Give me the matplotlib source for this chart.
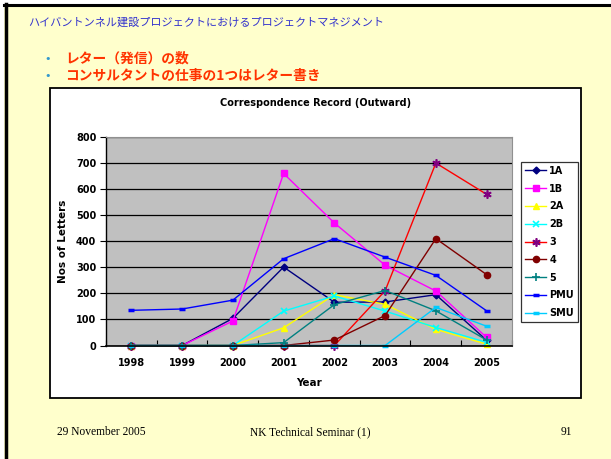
import matplotlib.pyplot as plt
from matplotlib.patches import Rectangle
from matplotlib.lines import Line2D

years = ['1998', '1999', '2000', '2001', '2002', '2003', '2004', '2005']

s_1A = [0, 0, 104, 301, 166, 167, 195, 20]
s_1B = [0, 0, 94, 660, 470, 308, 209, 31]
s_2A = [0, 0, 0, 68, 195, 158, 62, 5]
s_2B = [0, 0, 0, 132, 190, 132, 69, 12]
s_3 = [0, 0, 0, 0, 0, 210, 700, 580]
s_4 = [0, 0, 0, 0, 21, 115, 410, 272]
s_5 = [0, 0, 0, 11, 157, 211, 133, 21]
s_pmu = [135, 140, 174, 333, 410, 339, 269, 133]
s_smu = [0, 0, 0, 0, 0, 0, 146, 74]

series_names = ['1A', '1B', '2A', '2B', '3', '4', '5', 'PMU', 'SMU']
jp = ['Noto Sans CJK JP', 'DejaVu Sans']

W, H = 611, 459
fig = plt.figure(figsize=(W / 100, H / 100), dpi=100)
fig.patch.set_facecolor('white')

def fx(px):
    return px / W

def fy(py):
    return 1 - py / H

# slide background
fig.patches.append(Rectangle((fx(4), 0), 1, fy(4), transform=fig.transFigure,
                             facecolor='#FFFFCC', edgecolor='none', zorder=0))
fig.lines.append(Line2D([fx(4), 1], [fy(5), fy(5)], transform=fig.transFigure,
                        color='black', lw=2.2))
fig.lines.append(Line2D([fx(5.5), fx(5.5)], [0, fy(4)], transform=fig.transFigure,
                        color='black', lw=2.5))

fig.text(fx(28), fy(22), 'ハイバントンネル建設プロジェクトにおけるプロジェクトマネジメント',
         family=jp, fontsize=8.0, color='#3333CC', va='center')
fig.text(fx(44), fy(59), '•', fontsize=8, color='#3399CC', va='center')
fig.text(fx(44), fy(76), '•', fontsize=8, color='#3399CC', va='center')
fig.text(fx(65), fy(59), 'レター（発信）の数', family=jp, fontsize=9.9,
         weight='bold', color='#FF3300', va='center')
fig.text(fx(65), fy(76), 'コンサルタントの仕事の1つはレター書き', family=jp, fontsize=9.9,
         weight='bold', color='#FF3300', va='center')

# chart box
fig.patches.append(Rectangle((fx(50), fy(398)), fx(581 - 50), (398 - 88) / H,
                             transform=fig.transFigure, facecolor='white',
                             edgecolor='black', lw=1.3, zorder=1))
fig.text(fx(316), fy(103), 'Correspondence Record (Outward)', fontsize=7,
         weight='bold', ha='center', va='center')

ax = fig.add_axes([fx(106), fy(345.5), fx(406), (345.5 - 137) / H])
ax.set_facecolor('#C0C0C0')
ax.set_zorder(2)

x = list(range(len(years)))
styles = [
    (s_1A, '#000080', dict(marker='D', ms=3.5, mfc='#000080', mec='#000080')),
    (s_1B, '#FF00FF', dict(marker='s', ms=4.5, mfc='#FF00FF', mec='#FF00FF')),
    (s_2A, '#FFFF00', dict(marker='^', ms=5, mfc='#FFFF00', mec='#FFFF00')),
    (s_2B, '#00FFFF', dict(marker='x', ms=5, mew=1.2, mec='#00FFFF')),
    (s_3, '#FF0000', dict(marker=(6, 2, 0), ms=6, mew=1.2, mec='#800080')),
    (s_4, '#800000', dict(marker='o', ms=4.5, mfc='#800000', mec='#800000')),
    (s_5, '#008080', dict(marker='+', ms=6, mew=1.2, mec='#008080')),
    (s_pmu, '#0000FF', dict(marker='_', ms=4, mew=2.5, mec='#0000FF')),
    (s_smu, '#00CCFF', dict(marker='_', ms=5, mew=2.5, mec='#00CCFF')),
]
for (vals, col, mk), name in zip(styles, series_names):
    ax.plot(x, vals, color=col, lw=1, label=name, clip_on=False, **mk)

ax.set_xlim(-0.5, len(years) - 0.5)
ax.set_ylim(0, 800)
ax.set_yticks(range(0, 801, 100))
ax.grid(axis='y', color='black', lw=0.9)
ax.set_axisbelow(True)
ax.set_xticks([i - 0.5 for i in range(len(years) + 1)])
ax.set_xticklabels([])
ax.set_xticks(x, minor=True)
ax.set_xticklabels(years, minor=True)
ax.tick_params(axis='x', which='major', direction='in', length=4, width=0.8)
ax.tick_params(axis='x', which='minor', length=0, pad=9)
ax.tick_params(axis='y', direction='out', length=4, width=0.8, pad=3)
for lab in ax.get_xticklabels(minor=True) + ax.get_yticklabels():
    lab.set_fontsize(7)
    lab.set_fontweight('bold')
ax.spines['left'].set_color('black')
ax.spines['bottom'].set_color('black')
ax.spines['left'].set_linewidth(1)
ax.spines['bottom'].set_linewidth(1.2)
ax.spines['top'].set_color('#909090')
ax.spines['right'].set_color('#909090')
ax.set_ylabel('Nos of Letters', fontsize=7.5, weight='bold', labelpad=6)
ax.set_xlabel('Year', fontsize=7.5, weight='bold', labelpad=7)

leg = fig.legend(loc='upper left', bbox_to_anchor=(fx(521), fy(162)),
                 bbox_transform=fig.transFigure, frameon=True, fancybox=False,
                 edgecolor='black', prop={'weight': 'bold', 'size': 7},
                 handlelength=2.2, handletextpad=0.3, labelspacing=0.8,
                 borderpad=0.4, borderaxespad=0)
leg.get_frame().set_linewidth(0.9)
leg.set_zorder(3)

fig.text(fx(57), fy(432), '29 November 2005', family='Liberation Serif',
         fontsize=8.3, va='center')
fig.text(fx(310), fy(432), 'NK Technical Seminar (1)', family='Liberation Serif',
         fontsize=8.3, va='center', ha='center')
fig.text(fx(566), fy(432), '91', family='Liberation Serif',
         fontsize=8.3, va='center', ha='center')

fig.savefig('out.png', dpi=100)
